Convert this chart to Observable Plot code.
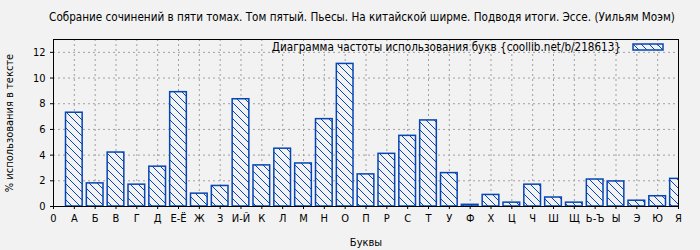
<!DOCTYPE html>
<html>
<head>
<meta charset="utf-8">
<script src="https://cdn.jsdelivr.net/npm/d3@7"></script>
<script src="https://cdn.jsdelivr.net/npm/@observablehq/plot@0.6"></script>
<style>
  body { margin: 0; background: #f2f2f2; }
  #wrap { position: relative; width: 700px; height: 250px; background: #f2f2f2; font-family: "DejaVu Sans Condensed", "DejaVu Sans", sans-serif; }
  #title { height: 30px; box-sizing: border-box; padding-top: 11px; padding-left: 24px; text-align: center; font-size: 11.6px; line-height: 13px; color: #000; white-space: nowrap; }
  #legend { position: absolute; top: 40px; right: 36px; height: 14px; display: flex; align-items: center; font-size: 11.6px; color: #000; white-space: nowrap; }
  #legend svg { margin-left: 11px; }
</style>
</head>
<body>
<svg width="0" height="0" style="position:absolute">
  <defs>
    <pattern id="hatch" patternUnits="userSpaceOnUse" width="8" height="8">
      <path d="M-2,-2 L10,10 M-2,6 L2,10 M6,-2 L10,2" stroke="#0645b4" stroke-width="1" fill="none"/>
    </pattern>
  </defs>
</svg>
<div id="wrap">
  <div id="title"></div>
  <div id="plot"></div>
  <div id="legend"><span id="legendText"></span><svg width="32" height="8"><rect x="1" y="1" width="30" height="6" fill="url(#hatch)" stroke="#0645b4" stroke-width="1.5"/></svg></div>
</div>
<script>
const titleText = "Собрание сочинений в пяти томах. Том пятый. Пьесы. На китайской ширме. Подводя итоги. Эссе. (Уильям Моэм)";
const legendLabel = "Диаграмма частоты использования букв {coollib.net/b/218613}";
const xLabel = "Буквы";
const yLabel = "% использования в тексте";
const tickLabels = ["0","А","Б","В","Г","Д","Е-Ё","Ж","З","И-Й","К","Л","М","Н","О","П","Р","С","Т","У","Ф","Х","Ц","Ч","Ш","Щ","Ь-Ъ","Ы","Э","Ю","Я"];
const letters = tickLabels.slice(1);
const values = [7.3,1.8,4.2,1.7,3.1,8.9,1.0,1.6,8.35,3.2,4.5,3.35,6.8,11.1,2.5,4.1,5.5,6.7,2.6,0.13,0.9,0.3,1.7,0.7,0.3,2.1,1.95,0.45,0.8,2.15];
const yTicks = [0,2,4,6,8,10,12];

document.getElementById("title").textContent = titleText;
document.getElementById("legendText").textContent = legendLabel;

const data = letters.map((l, k) => ({letter: l, i: k + 1, v: values[k]}));
const xTickIdx = tickLabels.map((_, i) => i);
const blue = "#0645b4";

const chart = Plot.plot({
  width: 700,
  height: 220,
  marginTop: 9,
  marginLeft: 53,
  marginRight: 22,
  marginBottom: 44,
  style: {background: "transparent", fontSize: "11px", fontFamily: "\"DejaVu Sans Condensed\", \"DejaVu Sans\", sans-serif", color: "#000"},
  x: {domain: [0, tickLabels.length - 1]},
  y: {domain: [0, 13]},
  marks: [
    Plot.gridX(xTickIdx.slice(1, -1), {stroke: "#a0a0a0", strokeOpacity: 1, strokeDasharray: "2,3"}),
    Plot.gridY(yTicks.slice(1), {stroke: "#a0a0a0", strokeOpacity: 1, strokeDasharray: "2,3"}),
    Plot.rectY(data, {x1: d => d.i - 0.4, x2: d => d.i + 0.4, y: "v", fill: "#f2f2f2", clip: true}),
    Plot.rectY(data, {x1: d => d.i - 0.4, x2: d => d.i + 0.4, y: "v", fill: "url(#hatch)", stroke: blue, strokeWidth: 1.5, clip: true}),
    Plot.frame({stroke: "#000", strokeWidth: 1}),
    Plot.axisX({ticks: xTickIdx, tickFormat: i => tickLabels[i], tickSize: 3, tickPadding: 5, label: xLabel, labelAnchor: "center", labelArrow: "none", labelOffset: 39}),
    Plot.axisY({ticks: yTicks, tickSize: 3, tickPadding: 5, label: yLabel, labelAnchor: "center", labelArrow: "none", labelOffset: 48})
  ]
});
document.getElementById("plot").appendChild(chart);
</script>
</body>
</html>
